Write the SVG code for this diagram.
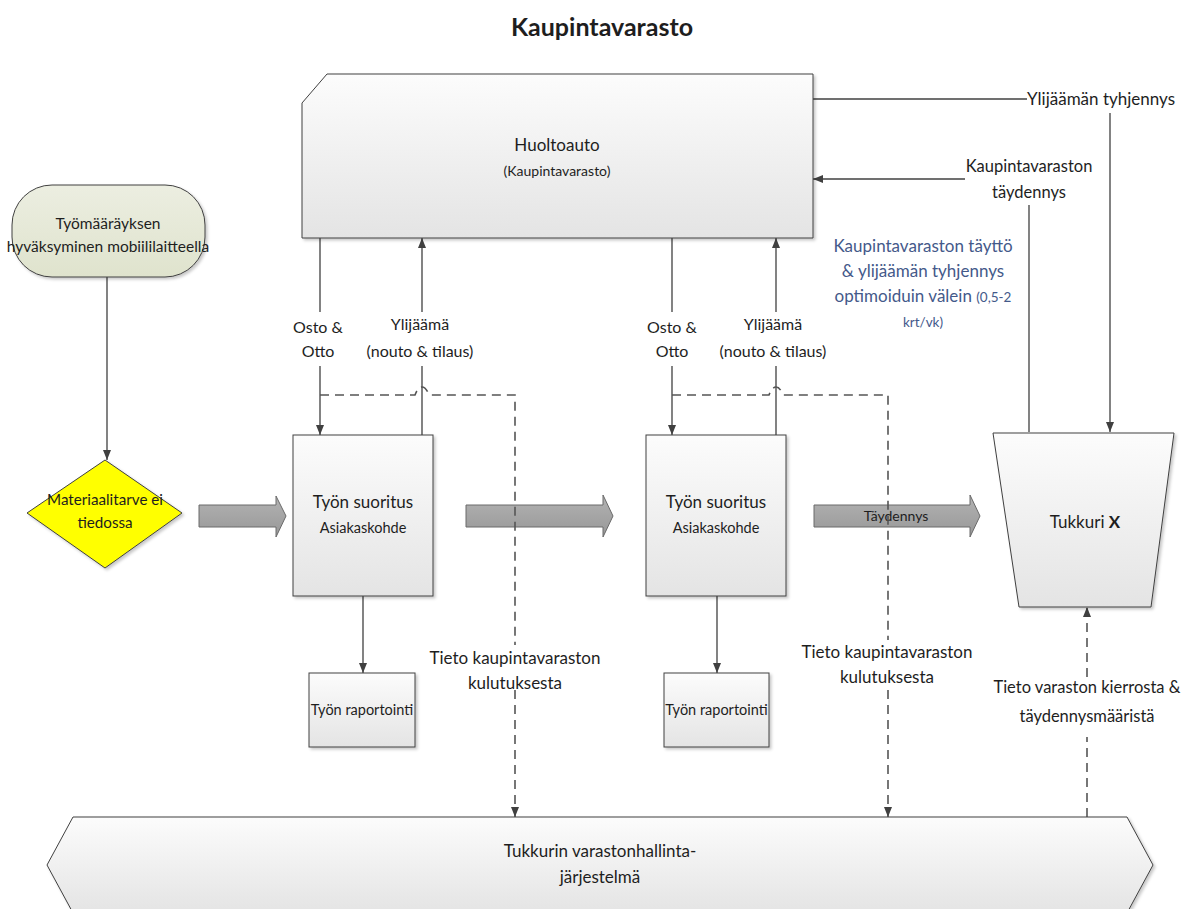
<svg xmlns="http://www.w3.org/2000/svg" width="1194" height="909" viewBox="0 0 1194 909">
<defs>
  <linearGradient id="gBox" x1="0" y1="0" x2="0" y2="1">
    <stop offset="0" stop-color="#fcfcfc"/>
    <stop offset="1" stop-color="#e4e4e4"/>
  </linearGradient>
  <linearGradient id="gTerm" x1="0" y1="0" x2="0" y2="1">
    <stop offset="0" stop-color="#eceee1"/>
    <stop offset="1" stop-color="#dfe3cd"/>
  </linearGradient>
  <linearGradient id="gArrow" x1="0" y1="0" x2="0" y2="1">
    <stop offset="0" stop-color="#b3b3b3"/>
    <stop offset="1" stop-color="#979797"/>
  </linearGradient>
  <filter id="sh" x="-10%" y="-10%" width="125%" height="125%">
    <feDropShadow dx="2" dy="2" stdDeviation="1.5" flood-color="#000" flood-opacity="0.22"/>
  </filter>
  <marker id="ah" viewBox="0 0 10 8" refX="10" refY="4" markerWidth="10" markerHeight="8" markerUnits="userSpaceOnUse" orient="auto">
    <path d="M0,0 L10,4 L0,8 z" fill="#404040"/>
  </marker>
</defs>
<style>
  text{font-family:Lato,"Liberation Sans",sans-serif;fill:#1e1e1e;text-anchor:middle}
  .ln{fill:none;stroke:#404040;stroke-width:1.3}
  .dl{fill:none;stroke:#555;stroke-width:1.6;stroke-dasharray:9 6}
  .box{fill:url(#gBox);stroke:#404040;stroke-width:1;filter:url(#sh)}
  .fat{fill:url(#gArrow);stroke:#6a6a6a;stroke-width:1}
  .t16{font-size:16px}
  .t17{font-size:17px}
  .t14{font-size:14.5px}
  .blue{fill:#44598a;font-size:17px}
</style>

<text x="602" y="36" font-size="25" font-weight="bold">Kaupintavarasto</text>

<g id="connectors">
  <path class="ln" d="M107,277 V460" marker-end="url(#ah)"/>
  <polygon class="fat" points="199,505 276,505 276,496 286,516 276,537 276,527 199,527"/>
  <polygon class="fat" points="466,505 603,505 603,495 613,516 603,537 603,527 466,527"/>
  <polygon class="fat" points="814,505 970,505 970,495 980,516 970,537 970,527 814,527"/>
  <text x="896" y="521" font-size="14">Täydennys</text>

  <path class="ln" d="M320,238 V312"/>
  <path class="ln" d="M320,366 V435" marker-end="url(#ah)"/>
  <path class="ln" d="M422,435 V366"/>
  <path class="ln" d="M422,312 V238" marker-end="url(#ah)"/>
  <text class="t16" x="318" y="333">Osto &amp;</text>
  <text class="t16" x="318" y="357">Otto</text>
  <text class="t16" x="420" y="330">Ylijäämä</text>
  <text class="t16" x="420" y="357">(nouto &amp; tilaus)</text>

  <path class="ln" d="M672,238 V312"/>
  <path class="ln" d="M672,366 V435" marker-end="url(#ah)"/>
  <path class="ln" d="M776,435 V366"/>
  <path class="ln" d="M776,312 V238" marker-end="url(#ah)"/>
  <text class="t16" x="672" y="333">Osto &amp;</text>
  <text class="t16" x="672" y="357">Otto</text>
  <text class="t16" x="773" y="330">Ylijäämä</text>
  <text class="t16" x="773" y="357">(nouto &amp; tilaus)</text>

  <path class="dl" d="M320,395 H415 Q418,387 422,387 Q426,387 429,395 H515 V645"/>
  <path class="dl" d="M515,690 V817" marker-end="url(#ah)"/>
  <path class="dl" d="M672,395 H769 Q772,387 776,387 Q780,387 783,395 H888 V640"/>
  <path class="dl" d="M888,690 V817" marker-end="url(#ah)"/>
  <text class="t17" x="515" y="664">Tieto kaupintavaraston</text>
  <text class="t17" x="515" y="689">kulutuksesta</text>
  <text class="t17" x="887" y="658">Tieto kaupintavaraston</text>
  <text class="t17" x="887" y="683">kulutuksesta</text>

  <path class="ln" d="M363,596 V673" marker-end="url(#ah)"/>
  <path class="ln" d="M717,596 V673" marker-end="url(#ah)"/>

  <path class="ln" d="M813,99 H1027"/>
  <text class="t17" x="1027" y="105" style="text-anchor:start">Ylijäämän tyhjennys</text>
  <path class="ln" d="M965,179 H813" marker-end="url(#ah)"/>
  <text x="1029" y="172" font-size="16.5">Kaupintavaraston</text>
  <text x="1029" y="198" font-size="16.5">täydennys</text>
  <path class="ln" d="M1029,432 V205"/>
  <path class="ln" d="M1110,113 V432" marker-end="url(#ah)"/>

  <path class="dl" d="M1087,817 V737"/>
  <path class="dl" d="M1087,677 V607" marker-end="url(#ah)"/>
  <text x="1087" y="693" font-size="16.5">Tieto varaston kierrosta &amp;</text>
  <text x="1087" y="722" font-size="16.5">täydennysmääristä</text>

  <text class="blue" x="923" y="252">Kaupintavaraston täyttö</text>
  <text class="blue" x="923" y="277">&amp; ylijäämän tyhjennys</text>
  <text class="blue" x="923" y="302">optimoiduin välein <tspan style="font-size:13.5px">(0,5-2</tspan></text>
  <text class="blue" x="923" y="327" style="font-size:13.5px">krt/vk)</text>
</g>

<g id="huoltoauto">
  <path class="box" d="M327,74 H813 V238 H302 V103 Z"/>
  <text x="557" y="151" font-size="17">Huoltoauto</text>
  <text x="557" y="176" font-size="14">(Kaupintavarasto)</text>
</g>

<g id="tyomaarays">
  <rect x="12" y="185" width="193" height="92" rx="40" ry="40" fill="url(#gTerm)" stroke="#404040" stroke-width="1" filter="url(#sh)"/>
  <text x="108" y="229" font-size="15.5">Työmääräyksen</text>
  <text x="108" y="252" font-size="15.5">hyväksyminen mobiililaitteella</text>
</g>

<g id="materiaalitarve">
  <polygon points="105,460 182,513 105,568 27,513" fill="#ffff00" stroke="#404040" stroke-width="1" filter="url(#sh)"/>
  <text x="105" y="505" font-size="15.2">Materiaalitarve ei</text>
  <text x="105" y="528" font-size="15.2">tiedossa</text>
</g>

<g id="suoritus1">
  <rect class="box" x="293" y="435" width="140" height="161"/>
  <text x="363" y="508" font-size="17">Työn suoritus</text>
  <text x="363" y="533" font-size="14.5">Asiakaskohde</text>
</g>

<g id="suoritus2">
  <rect class="box" x="646" y="435" width="140" height="161"/>
  <text x="716" y="508" font-size="17">Työn suoritus</text>
  <text x="716" y="533" font-size="14.5">Asiakaskohde</text>
</g>

<g id="raportointi1">
  <rect class="box" x="309" y="673" width="106" height="74"/>
  <text class="t14" x="362" y="715">Työn raportointi</text>
</g>

<g id="raportointi2">
  <rect class="box" x="664" y="673" width="105" height="74"/>
  <text class="t14" x="716.5" y="715">Työn raportointi</text>
</g>

<g id="tukkuri">
  <polygon class="box" points="993,433 1174,433 1151,607 1019,607"/>
  <text x="1085" y="528" font-size="17">Tukkuri <tspan font-weight="bold">X</tspan></text>
</g>

<g id="varastonhallinta">
  <polygon class="box" points="73,817 1127,817 1153,865 1127,913 73,913 47,865"/>
  <text class="t17" x="600" y="857">Tukkurin varastonhallinta-</text>
  <text class="t17" x="600" y="883">järjestelmä</text>
</g>
</svg>
